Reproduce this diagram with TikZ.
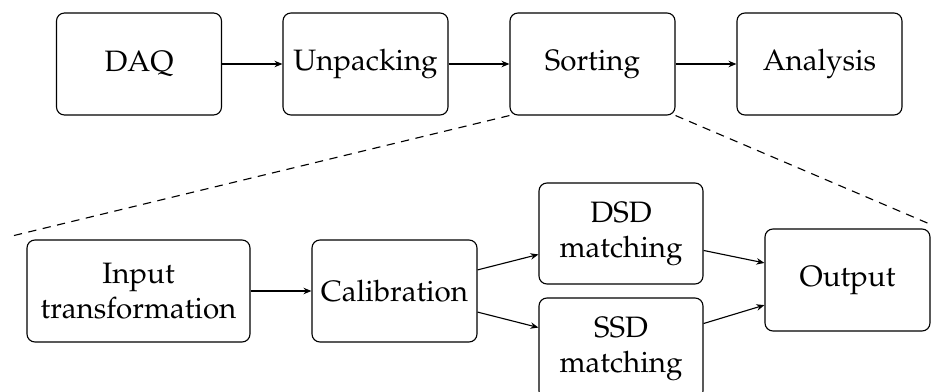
\documentclass[tikz,border=0pt]{standalone}
\usepackage[T1]{fontenc}
\usepackage{mathpazo}
\usetikzlibrary{arrows.meta}
\tikzset{
  stepbox/.style={draw, rounded corners=3.2pt, line width=0.45pt, minimum width=66pt, minimum height=40.8pt,
    align=center, inner sep=2pt, font=\fontsize{11.8}{14}\selectfont},
  flow/.style={line width=0.45pt, -{Stealth[length=3.2pt,width=2.6pt]}},
  zoomline/.style={line width=0.45pt, dash pattern=on 3.3pt off 2.6pt}
}
\begin{document}
\begin{tikzpicture}[x=0.4pt,y=-0.4pt]
\useasboundingbox (0,0) rectangle (932,392);
\node[stepbox] (daq) at (139,64) {DAQ};
\node[stepbox] (unp) at (365.5,64) {Unpacking};
\node[stepbox] (sort) at (592.5,64) {Sorting};
\node[stepbox] (ana) at (819.5,64) {Analysis};
\node[stepbox, minimum width=89.2pt] (inp) at (138.5,291) {Input\\transformation};
\node[stepbox] (cal) at (394.5,291) {Calibration};
\node[stepbox, minimum width=65.6pt, minimum height=40.4pt] (dsd) at (621,233.5) {DSD\\matching};
\node[stepbox, minimum width=65.6pt, minimum height=40.4pt] (ssd) at (621,348.5) {SSD\\matching};
\node[stepbox] (out) at (847.5,280) {Output};
\coordinate (zl) at (12,236);
\coordinate (zr) at (932,225);
\draw[flow] (daq) -- (unp);
\draw[flow] (unp) -- (sort);
\draw[flow] (sort) -- (ana);
\draw[flow] (inp) -- (cal);
\draw[flow] (cal) -- (dsd);
\draw[flow] (cal) -- (ssd);
\draw[flow] (dsd) -- (out);
\draw[flow] (ssd) -- (out);
\draw[zoomline] (sort.south west) -- (zl);
\draw[zoomline] (sort.south east) -- (zr);
\end{tikzpicture}
\end{document}
